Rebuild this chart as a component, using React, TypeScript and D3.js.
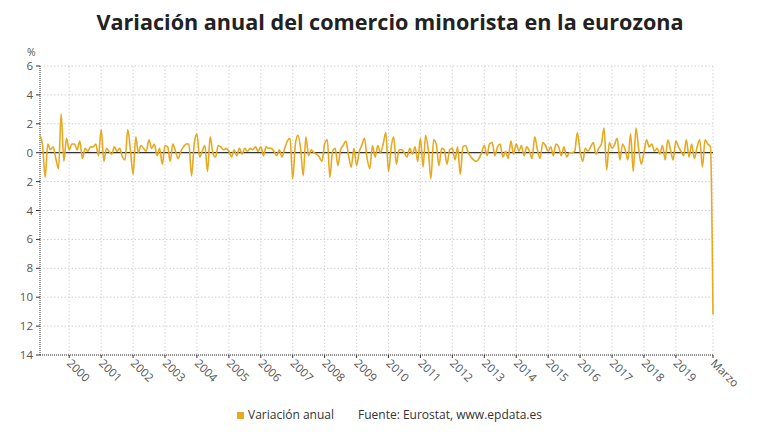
import React from "react";
import * as d3 from "d3";

const title = "Variación anual del comercio minorista en la eurozona";
const seriesName = "Variación anual";
const sourceText = "Fuente: Eurostat, www.epdata.es";
const startYear = 1999;
const startMonth = 1; // February (0-based)
const yTicks = [6, 4, 2, 0, -2, -4, -6, -8, -10, -12, -14];
const yearTicks = [2000, 2001, 2002, 2003, 2004, 2005, 2006, 2007, 2008, 2009, 2010, 2011, 2012, 2013, 2014, 2015, 2016, 2017, 2018, 2019];
const lastLabel = "Marzo";

// Monthly year-on-year variation (%), Feb 1999 – Mar 2020
const values = [
  1.2, 0.6, -1.7, 0.6, 0.2, 0.4, -0.4, -1.1, 2.7, -0.6, 1.0,
  0.2, 0.6, 0.6, 0.2, 0.8, -0.4, 0.3, 0.1, 0.4, 0.4, 0.6, -0.2,
  1.6, -0.6, 0.3, 0.1, -0.1, 0.4, 0.1, 0.3, -0.3, -0.5, 1.6, 0.2,
  -1.5, 1.1, 0.0, 0.5, 0.3, 0.1, 0.9, 0.3, 0.6, -0.2, 0.3, -0.8,
  0.5, 0.4, -0.6, 0.6, 0.1, -0.4, 0.1, 0.4, 0.6, 0.6, -1.6, 0.6,
  1.3, -0.3, 0.1, 0.5, -1.3, 1.1, 0.0, -0.3, 0.5, 0.4, 0.2, 0.3,
  0.1, -0.3, 0.2, -0.2, 0.3, -0.1, 0.3, 0.1, 0.3, 0.2, 0.4, 0.1,
  0.4, -0.2, 0.4, 0.3, 0.3, 0.1, -0.2, 0.2, -0.3, 0.3, 0.8, 1.0,
  -1.8, 0.6, 1.2, 0.3, -1.6, 1.1, -0.2, 0.2, 0.0, -0.1, -0.3, -0.6,
  0.6, 0.9, -1.7, 0.1, 0.3, -0.9, 0.2, 0.5, 0.8, -0.2, -1.0, 0.3,
  -0.9, 0.1, 0.5, 1.0, -0.4, -1.1, 0.5, -0.3, 0.5, 0.0, 0.6, 1.4,
  -1.3, 0.4, 1.1, -0.8, 0.2, 0.2, 0.0, -0.3, 0.3, -0.1, 0.4, -0.6,
  1.0, -1.0, 1.2, 0.2, -1.8, 0.9, 0.6, -0.9, 0.3, 0.2, -0.8, 0.2,
  0.3, -0.5, 0.4, -1.5, 0.4, 0.5, 0.0, -0.3, -0.5, -0.6, -0.4, 0.0,
  0.5, -0.2, 0.6, 0.7, -0.2, 0.4, 0.6, -0.3, 0.1, -0.4, 0.8, -0.1,
  0.6, 0.1, 0.5, -0.2, 0.4, 0.1, -0.4, 1.1, 0.2, -0.4, 0.7, 0.5,
  0.1, 0.4, -0.2, 0.6, 0.4, -0.2, 0.4, -0.3, 0.0, 0.0, 0.1, 1.4,
  0.1, -0.6, 0.3, 0.1, 0.4, 0.7, -0.1, 0.3, 0.6, 1.7, -1.2, 0.7,
  0.3, 0.6, 1.0, -0.5, 0.6, 0.2, -0.5, 1.3, -1.3, 1.7, 0.3, -0.8,
  0.0, 0.9, 0.4, 0.6, 0.1, 0.3, -0.1, 0.5, -0.5, 0.9, 0.2, -0.5,
  0.8, 0.4, 0.1, -0.2, 0.9, -0.3, 0.6, -0.4, 0.4, 0.9, -1.0, 0.9,
  0.6, 0.4, -11.2,
];

const W = 780;
const H = 440;
const left = 40;
const right = 713;
const top = 66;
const bottom = 355;
const font = "'Open Sans', 'Noto Sans', sans-serif";
const gold = "#E6A921";

export default function App() {
  const dates = values.map((_, i) => new Date(startYear, startMonth + i, 1));
  const x = d3
    .scaleTime()
    .domain([dates[0], dates[dates.length - 1]])
    .range([left, right]);
  const y = d3.scaleLinear().domain([-14, 6]).range([bottom, top]);
  const line = d3
    .line<number>()
    .x((_, i) => x(dates[i]))
    .y((d) => y(d))
    .curve(d3.curveMonotoneX);

  const tickDates = yearTicks.map((yr) => new Date(yr, 0, 1));
  const lastDate = dates[dates.length - 1];

  return (
    <svg width={W} height={H} style={{ position: "absolute", left: 0, top: 0, background: "#fff" }}>
      <rect x={0} y={0} width={W} height={H} fill="#fff" />
      <text x={390} y={30} textAnchor="middle" fontFamily={font} fontWeight={700} fontSize={21.6} fill="#222">
        {title}
      </text>
      {/* horizontal grid */}
      {yTicks.map((t) => (
        <line key={"hg" + t} x1={left} x2={right} y1={y(t)} y2={y(t)} stroke="#cfcfcf" strokeWidth={1} strokeDasharray="1.5,2" />
      ))}
      {/* vertical grid */}
      {tickDates.map((d, i) => (
        <line key={"vg" + i} x1={x(d)} x2={x(d)} y1={top} y2={bottom} stroke="#d6d6d6" strokeWidth={1} strokeDasharray="1.5,2" />
      ))}
      <line x1={right} x2={right} y1={top} y2={bottom} stroke="#d6d6d6" strokeWidth={1} strokeDasharray="1.5,2" />
      {/* y axis */}
      <line x1={left} x2={left} y1={top} y2={bottom} stroke="#333" strokeWidth={1} strokeDasharray="1,1" />
      {yTicks.map((t) => (
        <g key={"yt" + t}>
          <line x1={left - 4} x2={left} y1={y(t)} y2={y(t)} stroke="#333" />
          <text x={left - 7} y={y(t) + 4} textAnchor="end" fontFamily={font} fontSize={11.5} fill="#555">
            {Math.abs(t)}
          </text>
        </g>
      ))}
      <text x={27} y={56} fontFamily={font} fontSize={10.5} fill="#555">%</text>
      {/* x axis */}
      <line x1={left} x2={right} y1={bottom} y2={bottom} stroke="#333" strokeWidth={1} strokeDasharray="1,1" />
      {tickDates.map((d, i) => (
        <g key={"xt" + i}>
          <line x1={x(d)} x2={x(d)} y1={bottom} y2={bottom + 3} stroke="#333" />
          <text
            transform={`translate(${x(d) - 3},${bottom + 9}) rotate(45)`}
            fontFamily={font}
            fontSize={11.5}
            fill="#555"
          >
            {yearTicks[i]}
          </text>
        </g>
      ))}
      <line x1={x(lastDate)} x2={x(lastDate)} y1={bottom} y2={bottom + 3} stroke="#333" />
      <text transform={`translate(${x(lastDate) - 3},${bottom + 9}) rotate(45)`} fontFamily={font} fontSize={11.5} fill="#555">
        {lastLabel}
      </text>
      {/* zero line */}
      <line x1={left} x2={right} y1={y(0)} y2={y(0)} stroke="#333" strokeWidth={1.2} />
      {/* series */}
      <path d={line(values) || ""} fill="none" stroke={gold} strokeWidth={1.6} strokeLinejoin="round" />
      {/* legend */}
      <rect x={237} y={412} width={7} height={7} fill={gold} />
      <text x={248} y={419} fontFamily={font} fontSize={12} fill="#333">{seriesName}</text>
      <text x={358} y={419} fontFamily={font} fontSize={12} fill="#333">{sourceText}</text>
    </svg>
  );
}
